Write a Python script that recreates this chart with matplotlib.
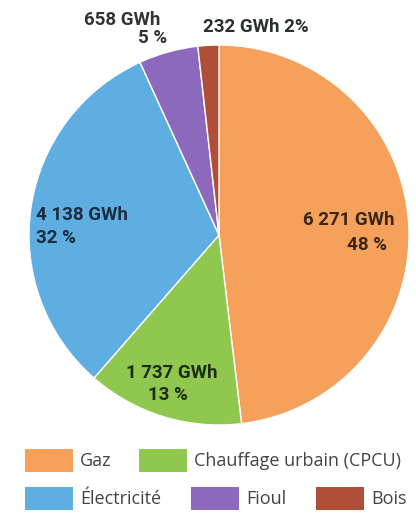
import matplotlib.pyplot as plt
from matplotlib.patches import Patch

labels = ["Gaz", "Chauffage urbain (CPCU)", "Électricité", "Fioul", "Bois"]
gwh = [6271, 1737, 4138, 658, 232]
pct_text = ["48 %", "13 %", "32 %", "5 %", "2%"]
gwh_text = ["6 271 GWh", "1 737 GWh", "4 138 GWh", "658 GWh", "232 GWh"]
colors = ["#f5a15c", "#8fc74f", "#5eaee2", "#8c69bd", "#b04f38"]
label_colors = ["#3a2614", "#1f2c14", "#1b2b40", "#333333", "#2a2f2f"]

plt.rcParams['font.family'] = ['Roboto', 'DejaVu Sans']

fig = plt.figure(figsize=(4.16, 5.2), dpi=100)
# pie centre (219, 235) px, radius 190 px
ax = fig.add_axes([(219 - 190) / 416, (520 - 235 - 190) / 520, 380 / 416, 380 / 520])
ax.pie(gwh, colors=colors, startangle=90, counterclock=False,
       wedgeprops=dict(edgecolor="white", linewidth=1.0))
ax.set_xlim(-1, 1)
ax.set_ylim(-1, 1)
ax.set_aspect("equal")

lab_kw = dict(fontsize=13.5, fontweight="bold", va="baseline", clip_on=False)
# Gaz
ax.text(0.926, 0.053, gwh_text[0], ha="right", color=label_colors[0], **lab_kw)
ax.text(0.884, -0.079, pct_text[0], ha="right", color=label_colors[0], **lab_kw)
# Chauffage urbain
ax.text(-0.247, -0.753, gwh_text[1], ha="center", color=label_colors[1], **lab_kw)
ax.text(-0.268, -0.868, pct_text[1], ha="center", color=label_colors[1], **lab_kw)
# Electricite
ax.text(-0.963, 0.079, gwh_text[2], ha="left", color=label_colors[2], **lab_kw)
ax.text(-0.963, -0.042, pct_text[2], ha="left", color=label_colors[2], **lab_kw)
# Fioul
ax.text(-0.31, 1.105, gwh_text[3], ha="right", color=label_colors[3], **lab_kw)
ax.text(-0.274, 1.011, pct_text[3], ha="right", color=label_colors[3], **lab_kw)
# Bois
ax.text(-0.084, 1.068, gwh_text[4] + " " + pct_text[4], ha="left",
        color=label_colors[4], **lab_kw)

handles = [Patch(facecolor=c, edgecolor="none") for c in colors]
fs = 13
fs_px = fs * 100 / 72
leg_kw = dict(frameon=False, handlelength=48 / fs_px, handleheight=28 / fs_px,
              handletextpad=7 / fs_px, borderaxespad=0, borderpad=0,
              labelcolor="#444444", loc="upper left",
              prop={"family": ["Open Sans", "DejaVu Sans"], "size": fs})
leg1 = fig.legend([handles[0], handles[1]], [labels[0], labels[1]], ncol=2,
                  bbox_to_anchor=(25 / 416, 1 - 449 / 520), columnspacing=1.5, **leg_kw)
leg2 = fig.legend([handles[2], handles[3], handles[4]], [labels[2], labels[3], labels[4]],
                  ncol=3, bbox_to_anchor=(25 / 416, 1 - 487 / 520), columnspacing=1.65,
                  **leg_kw)

fig.savefig("out.png", dpi=100, facecolor="white")
